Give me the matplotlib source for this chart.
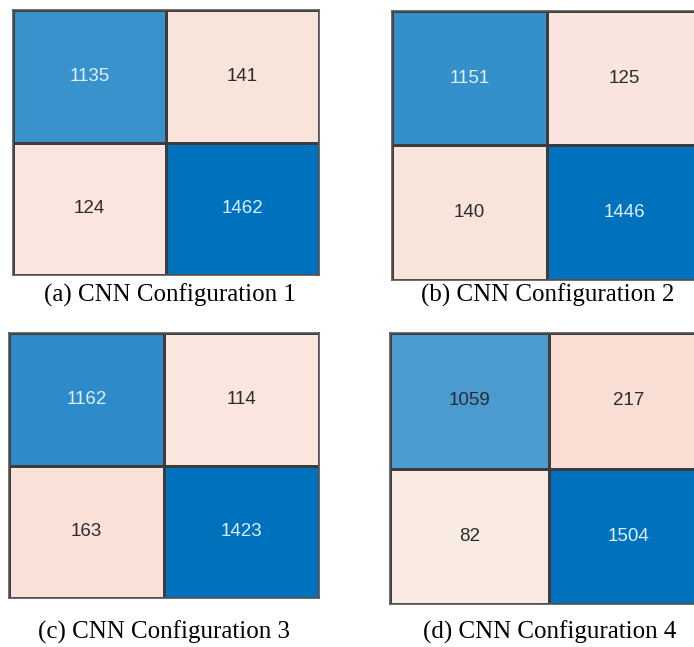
import matplotlib
matplotlib.use("Agg")
import matplotlib.pyplot as plt
import numpy as np
from matplotlib.colors import LinearSegmentedColormap, Normalize

# confusion matrices, rows = true class, cols = predicted class
cnn1 = [[1135, 141], [124, 1462]]
cnn2 = [[1151, 125], [140, 1446]]
cnn3 = [[1162, 114], [163, 1423]]
cnn4 = [[1059, 217], [82, 1504]]
captions = ["(a) CNN Configuration 1", "(b) CNN Configuration 2",
            "(c) CNN Configuration 3", "(d) CNN Configuration 4"]

# MATLAB confusionchart-like colours
AZUL = LinearSegmentedColormap.from_list("azul", ["#FFFFFF", "#0072BD"])
ROSA = LinearSegmentedColormap.from_list("rosa", ["#FCF1ED", "#DE6835"])
BORDA = "#3c3c3c"

# axes boxes in pixels: left, top, right, bottom
W, H = 694, 647
caixas = [(13, 10, 319, 275), (392, 11, 702, 280),
          (9, 333, 319, 598), (390, 333, 708, 604)]
legendas_xy = [(170, 295), (548, 295), (164, 632), (550, 632)]


def desenha_matriz(ax, cm):
    cm = np.array(cm, dtype=float)
    norm = Normalize(0, cm.max())
    diag = np.eye(2, dtype=bool)
    ax.pcolormesh(np.ma.masked_where(~diag, cm), cmap=AZUL, norm=norm,
                  edgecolors=BORDA, linewidth=0.9)
    ax.pcolormesh(np.ma.masked_where(diag, cm), cmap=ROSA, norm=norm,
                  edgecolors=BORDA, linewidth=0.9)
    for i in range(2):
        for j in range(2):
            cor = AZUL(norm(cm[i, j])) if diag[i, j] else ROSA(norm(cm[i, j]))
            lum = 0.299 * cor[0] + 0.587 * cor[1] + 0.114 * cor[2]
            txt = "#DDF0FF" if lum < 0.5 else "#2b2b2b"
            ax.text(j + 0.5, i + 0.5, str(int(cm[i, j])), ha="center",
                    va="center", fontsize=13.5, color=txt,
                    family="Liberation Sans")
    ax.set_xlim(0, 2)
    ax.set_ylim(2, 0)
    ax.set_xticks([])
    ax.set_yticks([])
    for s in ax.spines.values():
        s.set_color("#555555")
        s.set_linewidth(1.2)


fig = plt.figure(figsize=(W / 100, H / 100), dpi=100)
for cm, (l, t, r, b), cap, (cx, cy) in zip([cnn1, cnn2, cnn3, cnn4], caixas,
                                           captions, legendas_xy):
    ax = fig.add_axes([l / W, 1 - b / H, (r - l) / W, (b - t) / H])
    desenha_matriz(ax, cm)
    fig.text(cx / W, 1 - cy / H, cap, ha="center", va="center",
             fontsize=18, family="Liberation Serif")

fig.savefig("out.png", dpi=100)
